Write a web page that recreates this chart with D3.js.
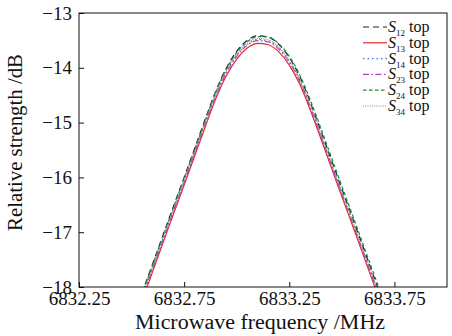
<!DOCTYPE html>
<html>
<head>
<meta charset="utf-8">
<script src="https://cdn.jsdelivr.net/npm/d3@7"></script>
</head>
<body style="margin:0">
<svg id="chart" width="452" height="336" font-family="Liberation Serif"></svg>
<script>
// frequency grid (MHz)
const freqs = [6832.50, 6832.55, 6832.60, 6832.65, 6832.70, 6832.75, 6832.80, 6832.85, 6832.90,
  6832.95, 6833.00, 6833.05, 6833.10, 6833.15, 6833.20, 6833.25, 6833.30, 6833.35, 6833.40,
  6833.45, 6833.50, 6833.55, 6833.60, 6833.65, 6833.70, 6833.75];

// relative strength (dB) per path
const s12 = [-18.64, -18.11, -17.58, -17.05, -16.52, -16.00, -15.47, -14.94, -14.43, -14.01, -13.70, -13.50, -13.415,
  -13.44, -13.57, -13.81, -14.16, -14.63, -15.15, -15.68, -16.21, -16.73, -17.26, -17.79, -18.32, -18.85];
const s13 = [-18.78, -18.25, -17.72, -17.19, -16.66, -16.14, -15.61, -15.08, -14.57, -14.15, -13.84, -13.64, -13.555,
  -13.58, -13.71, -13.95, -14.30, -14.77, -15.29, -15.82, -16.35, -16.87, -17.40, -17.93, -18.46, -18.99];
const s14 = [-18.71, -18.18, -17.65, -17.12, -16.59, -16.07, -15.54, -15.01, -14.50, -14.08, -13.77, -13.57, -13.485,
  -13.51, -13.64, -13.88, -14.23, -14.70, -15.22, -15.75, -16.28, -16.80, -17.33, -17.86, -18.39, -18.92];
const s23 = [-18.73, -18.20, -17.67, -17.14, -16.61, -16.09, -15.56, -15.03, -14.52, -14.10, -13.79, -13.59, -13.505,
  -13.53, -13.66, -13.90, -14.25, -14.72, -15.24, -15.77, -16.30, -16.82, -17.35, -17.88, -18.41, -18.94];
const s24 = [-18.66, -18.13, -17.60, -17.07, -16.54, -16.02, -15.49, -14.96, -14.45, -14.03, -13.72, -13.52, -13.43,
  -13.44, -13.56, -13.79, -14.13, -14.59, -15.10, -15.63, -16.16, -16.68, -17.21, -17.74, -18.27, -18.80];
const s34 = [-18.69, -18.16, -17.63, -17.10, -16.57, -16.05, -15.52, -14.99, -14.48, -14.06, -13.75, -13.55, -13.465,
  -13.49, -13.62, -13.86, -14.21, -14.68, -15.20, -15.73, -16.26, -16.78, -17.31, -17.84, -18.37, -18.90];

const xTicks = [6832.25, 6832.75, 6833.25, 6833.75];
const yTicks = [-18, -17, -16, -15, -14, -13];

const series = [
  { sub: '12', values: s12, color: '#222222', dash: '6,4' },
  { sub: '13', values: s13, color: '#e8262a', dash: null },
  { sub: '14', values: s14, color: '#3a6fe0', dash: '1.5,3' },
  { sub: '23', values: s23, color: '#b040c0', dash: '6,2.5,1.5,2.5' },
  { sub: '24', values: s24, color: '#15902a', dash: '3.5,2.5' },
  { sub: '34', values: s34, color: '#8a8a8a', dash: '1,1.2' }
];

const FONT = 'Liberation Serif';
const svg = d3.select('#chart');

/**
 * SIZE DEFINITIONS
 */
const plotLeft = 79, plotRight = 447, plotTop = 13, plotBottom = 287;

/**
 * SCALES
 */
const x = d3.scaleLinear().domain([6832.25, 6834.0]).range([plotLeft, plotRight]);
const y = d3.scaleLinear().domain([-18, -13]).range([plotBottom, plotTop]);

svg.append('clipPath').attr('id', 'plot-clip')
  .append('rect')
  .attr('x', plotLeft).attr('y', plotTop)
  .attr('width', plotRight - plotLeft).attr('height', plotBottom - plotTop);

/**
 * CURVES
 */
const line = d3.line()
  .curve(d3.curveMonotoneX)
  .x((d, i) => x(freqs[i]))
  .y((d) => y(d));

const plot = svg.append('g').attr('clip-path', 'url(#plot-clip)');
series.forEach((s) => {
  plot.append('path')
    .attr('d', line(s.values))
    .attr('fill', 'none')
    .attr('stroke', s.color)
    .attr('stroke-width', 1.2)
    .attr('stroke-dasharray', s.dash);
});

/**
 * AXES
 */
const xAxis = d3.axisBottom(x).tickValues(xTicks).tickFormat(d3.format('.2f'))
  .tickSizeInner(-5).tickSizeOuter(0).tickPadding(5);
const gx = svg.append('g')
  .attr('transform', `translate(0,${plotBottom})`)
  .call(xAxis);

const yAxis = d3.axisLeft(y).tickValues(yTicks).tickFormat((d) => d3.format('d')(d).replace('-', '\u2212'))
  .tickSizeInner(-5).tickSizeOuter(0).tickPadding(7);
const gy = svg.append('g')
  .attr('transform', `translate(${plotLeft},0)`)
  .call(yAxis);

[gx, gy].forEach((g) => {
  g.select('.domain').remove();
  g.attr('font-family', FONT).attr('font-size', 19);
  g.selectAll('text').attr('font-family', FONT).attr('font-size', 19).attr('fill', '#111');
  g.selectAll('.tick line').attr('stroke', '#111');
});

// frame
svg.append('rect')
  .attr('x', plotLeft).attr('y', plotTop)
  .attr('width', plotRight - plotLeft).attr('height', plotBottom - plotTop)
  .attr('fill', 'none')
  .attr('stroke', '#111')
  .attr('stroke-width', 1);

// axis titles
svg.append('text')
  .attr('x', 135)
  .attr('y', 329)
  .attr('textLength', 250)
  .attr('lengthAdjust', 'spacingAndGlyphs')
  .attr('font-family', FONT)
  .attr('font-size', 20)
  .attr('fill', '#111')
  .text('Microwave frequency /MHz');

svg.append('text')
  .attr('transform', 'translate(22,231) rotate(-90)')
  .attr('textLength', 177)
  .attr('lengthAdjust', 'spacingAndGlyphs')
  .attr('font-family', FONT)
  .attr('font-size', 21)
  .attr('fill', '#111')
  .text('Relative strength /dB');

/**
 * LEGEND
 */
const legend = svg.append('g').attr('font-family', FONT);
series.forEach((s, i) => {
  const cy = 27 + i * 15.8;
  legend.append('line')
    .attr('x1', 363).attr('x2', 387)
    .attr('y1', cy).attr('y2', cy)
    .attr('stroke', s.color)
    .attr('stroke-width', 1.2)
    .attr('stroke-dasharray', s.dash);
  const t = legend.append('text')
    .attr('x', 388)
    .attr('y', cy + 5)
    .attr('font-family', FONT)
    .attr('font-size', 16)
    .attr('fill', '#111');
  t.append('tspan').attr('font-style', 'italic').text('S');
  t.append('tspan').attr('font-size', 9).attr('dy', 4).text(s.sub);
  t.append('tspan').attr('dy', -4).text('\u00a0top');
});
</script>
</body>
</html>
